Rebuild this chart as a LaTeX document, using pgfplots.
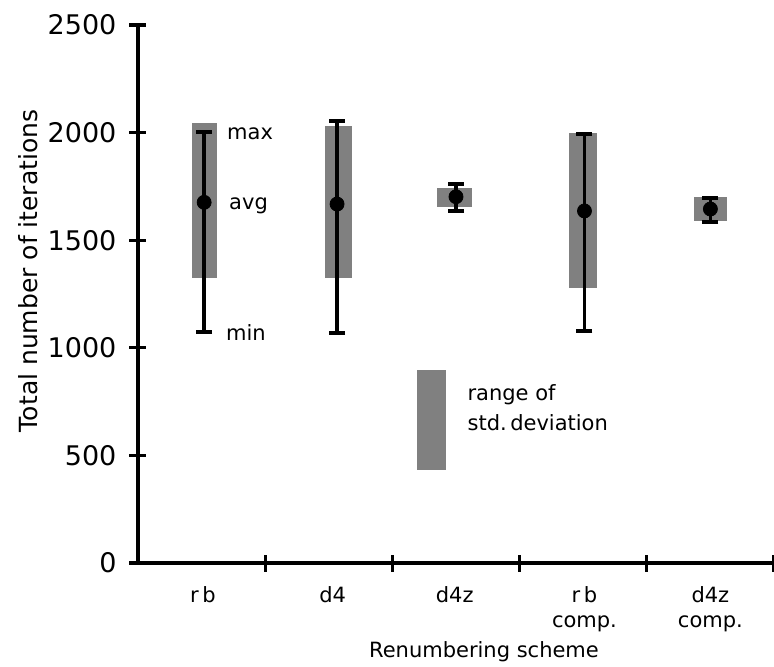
\documentclass[border=0pt]{standalone}
\usepackage{fontspec}
\setmainfont{DejaVu Sans}
\usepackage{pgfplots}
\usepackage{pgfplotstable}
\pgfplotsset{compat=1.18}

% x avg min max per renumbering scheme
\pgfplotstableread{
x    avg  min  max
0.52 1676 1075 2001
1.565 1668 1067 2055
2.50 1702 1636 1760
3.51 1636 1078 1995
4.50 1645 1583 1695
}\itertable

\begin{document}
\begin{tikzpicture}[font=\fontsize{10.5}{12.5}\selectfont]
\path[use as bounding box] (-69pt,-51.5pt) rectangle (318pt,281.5pt);
\begin{axis}[
    at={(0pt,0pt)}, anchor=south west,
    scale only axis, width=318pt, height=269pt,
    xmin=0, xmax=5, ymin=0, ymax=2500,
    axis x line=bottom, axis y line=left,
    axis line style={-, line width=1.6pt},
    clip=false,
    xtick={1,2,3,4,5}, xticklabels={},
    ytick={0,500,...,2500},
    tick align=center, major tick length=8.5pt,
    tick style={line width=1.6pt, black},
    /pgf/number format/1000 sep={},
    /pgf/number format/assume math mode=true,
    yticklabel style={font=\fontsize{13.5}{15}\selectfont, xshift=-3pt},
    extra x ticks={0.51,1.53,2.49,3.51,4.50},
    extra x tick labels={r\,b, d4, d4z, {r\,b\\comp.}, {d4z\\comp.}},
    extra x tick style={major tick length=0pt,
        xticklabel style={align=center, yshift=-8pt}},
    xlabel={Renumbering scheme},
    xlabel style={at={(axis description cs:0.544,-0.165)}, anchor=center},
    ylabel={Total number of iterations},
    ylabel style={at={(axis description cs:-0.173,0.543)}, anchor=center,
        font=\fontsize{12.5}{14}\selectfont},
]
% ranges of std. deviation
\addplot[fill=black!50, draw=none] coordinates {(0.424,1323)(0.620,1323)(0.620,2043)(0.424,2043)} --cycle;
\addplot[fill=black!50, draw=none] coordinates {(1.467,1324)(1.686,1324)(1.686,2031)(1.467,2031)} --cycle;
\addplot[fill=black!50, draw=none] coordinates {(2.353,1656)(2.627,1656)(2.627,1744)(2.353,1744)} --cycle;
\addplot[fill=black!50, draw=none] coordinates {(3.388,1277)(3.608,1277)(3.608,1997)(3.388,1997)} --cycle;
\addplot[fill=black!50, draw=none] coordinates {(4.369,1589)(4.627,1589)(4.627,1701)(4.369,1701)} --cycle;
% key box
\addplot[fill=black!50, draw=none] coordinates {(2.196,432)(2.424,432)(2.424,897)(2.196,897)} --cycle;

% min / avg / max
\addplot[black, only marks, mark=*, mark size=3.5pt,
    error bars/.cd, y dir=both, y explicit,
    error bar style={line width=1.8pt},
    error mark options={rotate=90, mark size=4pt, line width=2pt}]
    table[x=x, y=avg,
          y error plus expr=\thisrow{max}-\thisrow{avg},
          y error minus expr=\thisrow{avg}-\thisrow{min}] {\itertable};

\node[anchor=base west, inner sep=0pt] at (axis cs:0.698,1970) {max};
\node[anchor=base west, inner sep=0pt] at (axis cs:0.714,1645) {avg};
\node[anchor=base west, inner sep=0pt] at (axis cs:0.69,1036) {min};
\node[anchor=base west, inner sep=0pt] at (axis cs:2.588,757) {range of};
\node[anchor=base west, inner sep=0pt] at (axis cs:2.588,618) {std.\,deviation};
\end{axis}
\end{tikzpicture}
\end{document}
